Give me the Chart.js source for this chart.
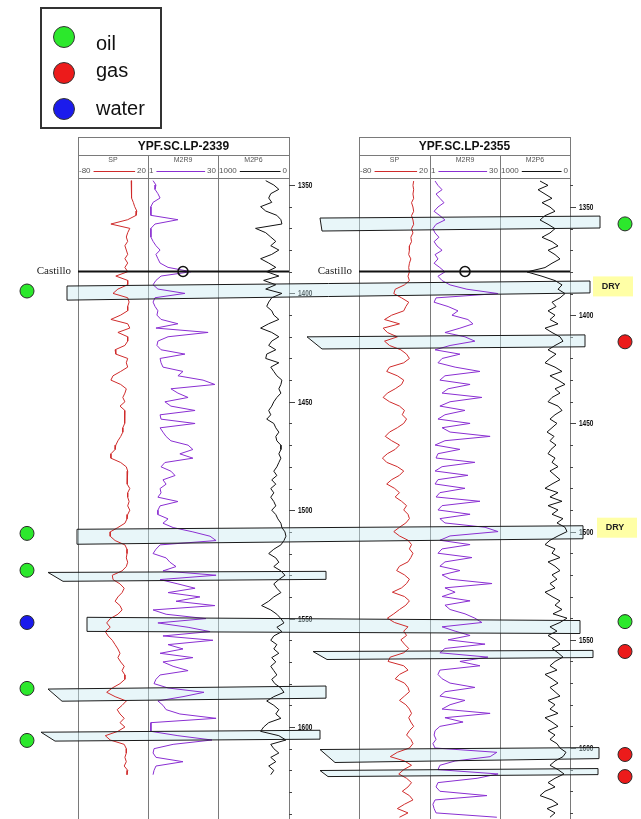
<!DOCTYPE html>
<html>
<head>
<meta charset="utf-8">
<script src="https://cdn.jsdelivr.net/npm/chart.js@4.4.0/dist/chart.umd.min.js"></script>
<style>
  html, body { margin: 0; padding: 0; background: #fff; }
  #wrap { position: relative; width: 641px; height: 819px; }
</style>
</head>
<body>
<div id="wrap"><canvas id="logs" width="641" height="819"></canvas></div>
<script>
const wells = ['YPF.SC.LP-2339', 'YPF.SC.LP-2355'];
const curveNames = ['SP', 'M2R9', 'M2P6'];
const curveRanges = [[-80, 20], [1, 30], [1000, 0]];
const depthTicks = [1350, 1400, 1450, 1500, 1550, 1600];
const fluids = ['oil', 'gas', 'water'];

// samples every 2 m, first sample depth per well
const sampleStep = 2;
const firstDepth = [1348, 1338];

// well 1 (2339)
const sp1 = [-4,-3,-4,-3,-4,-1,1,4,3,-9,
  -33,-6,-9,-11,-9,-13,-11,-9,-13,-9,
  -13,-9,-26,-9,-9,-23,-30,-9,-7,-9,
  -9,-19,-33,-9,-6,-23,-9,-9,-13,-27,
  -26,-9,-11,-9,-19,-30,-33,-19,-11,-13,
  -16,-13,-20,-13,-13,-14,-13,-16,-16,-19,
  -23,-26,-27,-33,-33,-19,-11,-9,-10,-9,
  -10,-6,-9,-9,-7,-9,-6,-9,-10,-13,
  -23,-34,-34,-27,-13,-10,-10,-11,-9,-11,
  -17,-31,-30,-20,-14,-17,-23,-27,-20,-17,
  -23,-34,-39,-34,-41,-37,-31,-27,-23,-20,
  -23,-19,-14,-17,-13,-13,-20,-31,-39,-27,
  -11,-17,-24,-20,-14,-20,-13,-23,-41,-34,
  -14,-11,-11,-13,-11,-14,-9,-10];
const m2r9a = [3.1,4.3,3.9,5.1,6.0,3.1,2.2,2.2,2.2,13.4,
  3.9,2.2,2.2,2.2,3.1,4.3,6.0,4.3,5.1,6.0,
  9.3,18.8,6.4,4.3,3.1,5.1,16.3,3.9,3.1,3.9,
  5.1,4.7,6.4,13.4,4.3,25.9,9.3,5.1,4.7,6.4,
  16.3,6.0,6.4,7.2,15.5,13.4,23.8,28.7,10.5,13.4,
  17.6,8.0,10.5,20.5,6.0,6.4,20.5,6.0,7.2,8.5,
  10.5,17.6,19.6,14.2,19.6,8.0,6.4,10.5,12.2,7.2,
  8.5,6.0,6.4,5.1,13.4,6.0,5.1,5.1,9.3,7.2,
  11.4,19.6,26.7,29.2,6.0,4.3,3.1,8.5,10.1,12.6,
  7.2,29.2,6.0,13.4,20.5,9.3,22.5,12.6,28.7,3.1,
  8.5,25.0,5.1,17.6,26.7,7.2,27.9,9.3,15.5,6.0,
  19.6,7.2,11.4,17.6,6.0,4.3,3.5,9.3,24.2,15.5,
  5.1,7.2,8.5,14.2,29.2,2.2,2.2,2.2,13.4,27.5,
  11.4,3.5,3.1,4.3,15.5,4.3,3.5,3.1];
const m2p6a = [328,214,143,257,286,243,400,328,171,114,
  100,471,328,257,186,257,143,243,400,286,
  186,314,143,357,186,328,100,243,286,314,
  243,214,143,286,400,243,143,243,286,186,
  314,328,143,257,214,171,100,114,143,114,
  171,214,243,286,257,314,214,186,143,186,
  171,114,114,143,114,143,171,214,171,243,
  186,257,214,257,214,186,243,186,157,114,
  100,57,43,71,114,214,286,186,143,214,
  114,57,143,214,171,114,214,286,386,257,
  171,114,71,171,100,214,257,171,214,143,
  243,186,257,214,171,243,200,114,71,214,
  314,214,143,186,114,286,357,400,143,43,
  257,214,143,257,186,286,214,257];

// well 2 (2355)
const sp2 = [-3,-4,-3,-4,-3,-6,-4,-3,-6,-4,
  -3,-6,-4,-7,-6,-9,-9,-10,-7,-9,
  -10,-9,-11,-9,-16,-29,-31,-20,-10,-14,
  -17,-34,-44,-23,-46,-40,-26,-44,-37,-21,
  -13,-9,-17,-37,-41,-26,-17,-20,-29,-40,
  -46,-37,-23,-16,-19,-13,-17,-26,-37,-43,
  -34,-23,-29,-40,-47,-41,-26,-17,-23,-34,
  -41,-30,-23,-29,-20,-13,-17,-11,-9,-14,
  -23,-31,-23,-11,-6,-9,-4,-7,-11,-23,
  -27,-16,-9,-13,-20,-33,-16,-9,-14,-23,
  -31,-40,-30,-11,-17,-13,-21,-16,-10,-17,
  -36,-39,-17,-11,-23,-29,-16,-11,-9,-16,
  -23,-14,-9,-6,-10,-7,-3,-9,-13,-7,
  -4,-9,-26,-36,-16,-6,-17,-24,-13,-6,
  -11,-19,-9,-4,-16,-26,-11,-23];
const m2r9b = [3.1,4.3,6.0,3.5,5.1,6.8,4.3,2.7,5.1,7.2,
  3.5,2.2,3.1,4.7,2.7,3.9,6.0,3.1,4.3,2.7,
  5.1,7.2,4.3,6.0,9.3,16.3,29.2,3.5,2.7,8.5,
  12.6,10.1,16.7,18.8,13.4,7.2,15.5,19.6,9.3,3.1,
  13.4,6.0,4.3,11.4,21.7,7.2,5.1,17.6,8.5,6.0,
  22.5,9.3,5.1,15.5,7.2,4.3,17.6,6.0,9.3,25.9,
  7.2,3.1,13.4,4.3,3.5,19.6,6.0,3.1,16.7,4.3,
  3.1,15.5,5.1,3.5,21.7,6.0,4.3,17.6,5.1,7.2,
  23.8,29.2,9.3,5.1,17.6,6.0,4.3,18.4,7.2,5.1,
  13.4,6.0,9.3,26.7,7.2,11.4,6.0,17.6,7.2,9.3,
  15.5,19.6,22.5,6.0,11.4,17.6,8.5,23.8,7.2,5.1,
  25.0,13.4,21.7,5.1,4.3,6.0,9.3,19.6,7.2,5.1,
  15.5,9.3,6.0,25.9,7.2,14.7,5.1,3.1,2.7,3.5,
  2.2,3.1,28.7,25.9,11.4,5.1,4.3,29.2,20.5,4.3,
  3.5,5.1,24.6,3.1,2.2,2.7,3.5,28.7];
const m2p6b = [428,314,457,357,257,400,286,214,357,428,
  314,214,286,400,257,171,314,214,143,257,
  357,614,400,214,114,171,71,143,257,200,
  314,214,286,171,357,257,143,100,214,314,
  200,286,357,214,114,286,171,71,214,143,
  257,314,171,114,214,286,186,257,328,228,
  286,200,271,314,214,257,171,286,214,143,
  257,357,171,286,114,314,171,257,100,186,
  71,43,171,286,357,214,257,143,314,214,
  143,257,186,286,214,357,257,143,214,114,
  243,43,143,286,186,314,214,143,257,171,
  100,214,286,186,357,257,171,286,214,143,
  314,214,286,171,357,257,171,314,214,286,
  186,143,57,100,214,286,171,86,214,314,
  214,357,428,257,171,328,214,286];

// Castillo marker depth in each well
const castilloDepth = [1389.9, 1379.8];

// correlation bands: well of each end, top / base depth at each end
const bandLeftWell  = [2, 1, 2, 1, 1, 1, 2, 1, 1, 2, 2];
const bandLeftTop   = [1355.1, 1396.6, 1410.0, 1508.8, 1528.7, 1549.4, 1555.4, 1582.5, 1602.4, 1600.7, 1610.4];
const bandLeftBase  = [1361.1, 1403.1, 1415.6, 1515.7, 1532.8, 1555.9, 1559.1, 1588.1, 1606.5, 1606.7, 1613.2];
const bandRightWell = [2, 2, 2, 2, 1, 2, 2, 1, 1, 2, 2];
const bandRightTop  = [1354.2, 1384.2, 1409.1, 1497.3, 1528.2, 1541.1, 1554.9, 1581.1, 1601.5, 1599.8, 1609.5];
const bandRightBase = [1359.7, 1389.7, 1414.6, 1503.3, 1531.9, 1547.1, 1558.2, 1586.7, 1605.6, 1604.9, 1612.3];

// test results
const w1Fluid = ['oil', 'oil', 'oil', 'water', 'oil', 'oil'];
const w1FluidDepth = [1398.9, 1510.7, 1527.7, 1551.8, 1582.2, 1606.2];
const w2Fluid = ['oil', 'gas', 'oil', 'gas', 'gas', 'gas'];
const w2FluidDepth = [1357.8, 1412.3, 1541.6, 1555.4, 1603.0, 1613.2];
const dryDepth = [1386.7, 1498.2];

// ---- layout ----
const W = 641, H = 819;
const TRACK_PX = [[78, 148, 218, 289], [359, 430, 500, 570]];
const DEPTH_PX = [[185, 727], [207, 748]];        // rows of 1350 and 1600
const HEADER = { top: 137, title: 155, bottom: 178 };
const MARKER_X = [27, 625];
const DRY_X = [23, 27];
// band end offsets: [left top, left base] from left track edge, right from right track edge
const BAND_X = [[-39, -37, 30], [-11, -11, 20], [-52, -37, 15], [-1, -1, 13], [-30, -15, 37],
  [9, 9, 10], [-46, -32, 23], [-30, -16, 37], [-37, -23, 31], [-39, -24, 29], [-39, -31, 28]];
const FLUID_COLORS = { oil: '#2ce82c', gas: '#ec1b1b', water: '#1b1bec' };
const CURVE_COLORS = ['#cf2b2b', '#8a2fd2', '#111111'];
const CURVE_KEYS = ['sp', 'rt', 'pe'];

function fit(vA, vB, pA, pB, size) {
  const k = (vB - vA) / (pB - pA);
  const v0 = vA - pA * k, v1 = vB + (size - pB) * k;
  return k > 0 ? { min: v0, max: v1, reverse: false } : { min: v1, max: v0, reverse: true };
}

const scales = {
  page: { type: 'linear', axis: 'x', position: 'bottom', display: false, bounds: 'data', min: 0, max: W }
};
[0, 1].forEach(w => {
  const t = TRACK_PX[w];
  curveRanges.forEach((rg, c) => {
    const m = fit(rg[0], rg[1], t[c], t[c + 1], W);
    scales[CURVE_KEYS[c] + w] = { type: 'linear', axis: 'x', position: 'bottom', display: false,
      bounds: 'data', min: m.min, max: m.max, reverse: m.reverse };
  });
  const d = fit(1350, 1600, DEPTH_PX[w][0], DEPTH_PX[w][1], H);
  scales['d' + w] = { type: 'linear', axis: 'y', position: 'left', display: false,
    bounds: 'data', min: d.min, max: d.max, reverse: !d.reverse };
});

const logs = [[sp1, m2r9a, m2p6a], [sp2, m2r9b, m2p6b]];
const datasets = [
  { data: w1FluidDepth.map(d => ({ x: MARKER_X[0], y: d })), xAxisID: 'page', yAxisID: 'd0',
    pointRadius: 7, pointBackgroundColor: w1Fluid.map(f => FLUID_COLORS[f]),
    pointBorderColor: '#2a2a2a', pointBorderWidth: 1, showLine: false },
  { data: w2FluidDepth.map(d => ({ x: MARKER_X[1], y: d })), xAxisID: 'page', yAxisID: 'd1',
    pointRadius: 7, pointBackgroundColor: w2Fluid.map(f => FLUID_COLORS[f]),
    pointBorderColor: '#2a2a2a', pointBorderWidth: 1, showLine: false }
];
logs.forEach((curves, w) => {
  curves.forEach((vals, c) => {
    datasets.push({
      label: wells[w] + ' ' + curveNames[c],
      data: vals.map((v, i) => ({ x: v, y: firstDepth[w] + i * sampleStep })),
      xAxisID: CURVE_KEYS[c] + w, yAxisID: 'd' + w,
      showLine: true, borderColor: CURVE_COLORS[c], borderWidth: 1,
      pointRadius: 0, tension: 0
    });
  });
});

function edges(chart, w) {
  const s = chart.scales;
  return [s['sp' + w].getPixelForValue(curveRanges[0][0]), s['sp' + w].getPixelForValue(curveRanges[0][1]),
    s['rt' + w].getPixelForValue(curveRanges[1][1]), s['pe' + w].getPixelForValue(curveRanges[2][1])];
}
const py = (chart, w, d) => chart.scales['d' + w].getPixelForValue(d);

function bandPoly(chart, i) {
  const lw = bandLeftWell[i] - 1, rw = bandRightWell[i] - 1, ex = BAND_X[i];
  const lx = edges(chart, lw)[0], rx = edges(chart, rw)[3];
  return [[lx + ex[0], py(chart, lw, bandLeftTop[i])], [rx + ex[2], py(chart, rw, bandRightTop[i])],
    [rx + ex[2], py(chart, rw, bandRightBase[i])], [lx + ex[1], py(chart, lw, bandLeftBase[i])]];
}

const sectionPlugin = {
  id: 'section',
  beforeDatasetsDraw(chart) {
    const ctx = chart.ctx;
    ctx.save();
    [0, 1].forEach(w => {
      const e = edges(chart, w);
      ctx.strokeStyle = '#7a7a7a'; ctx.lineWidth = 1;
      ctx.beginPath();
      [e[0], e[3]].forEach(x => { ctx.moveTo(Math.round(x) + 0.5, HEADER.top); ctx.lineTo(Math.round(x) + 0.5, H); });
      [e[1], e[2]].forEach(x => { ctx.moveTo(Math.round(x) + 0.5, HEADER.title); ctx.lineTo(Math.round(x) + 0.5, H); });
      [HEADER.top, HEADER.title, HEADER.bottom].forEach(y => { ctx.moveTo(e[0], y + 0.5); ctx.lineTo(e[3] + 1, y + 0.5); });
      ctx.stroke();
      ctx.fillStyle = '#111';
      ctx.font = 'bold 12px "Liberation Sans", Arial, sans-serif';
      ctx.textAlign = 'center'; ctx.textBaseline = 'middle';
      ctx.fillText(wells[w], (e[0] + e[3]) / 2, (HEADER.top + HEADER.title) / 2 + 1);
      curveNames.forEach((name, c) => {
        const l = e[c], r = e[c + 1];
        ctx.fillStyle = '#555';
        ctx.font = '7px "Liberation Sans", Arial, sans-serif';
        ctx.textAlign = 'center';
        ctx.fillText(name, (l + r) / 2, HEADER.title + 5);
        ctx.font = '8px "Liberation Sans", Arial, sans-serif';
        const yRow = HEADER.title + 16;
        const a = String(curveRanges[c][0]), b = String(curveRanges[c][1]);
        ctx.textAlign = 'left'; ctx.fillText(a, l + 1, yRow);
        ctx.textAlign = 'right'; ctx.fillText(b, r - 2, yRow);
        const aw = ctx.measureText(a).width, bw = ctx.measureText(b).width;
        ctx.strokeStyle = CURVE_COLORS[c];
        ctx.beginPath(); ctx.moveTo(l + aw + 4, yRow + 0.5); ctx.lineTo(r - bw - 4, yRow + 0.5); ctx.stroke();
      });
      // depth ticks
      const s = chart.scales['d' + w];
      ctx.strokeStyle = '#444'; ctx.fillStyle = '#111';
      ctx.font = 'bold 9px "Liberation Sans", Arial, sans-serif';
      ctx.textAlign = 'left'; ctx.textBaseline = 'middle';
      for (let d = 1340; d <= 1640; d += 10) {
        const y = Math.round(s.getPixelForValue(d)) + 0.5;
        if (y < HEADER.bottom + 2 || y > H) continue;
        const major = depthTicks.includes(d);
        ctx.beginPath(); ctx.moveTo(e[3], y); ctx.lineTo(e[3] + (major ? 6 : 3), y); ctx.stroke();
        if (major) {
          ctx.save();
          ctx.translate(e[3] + 9, y);
          ctx.scale(0.72, 1);
          ctx.fillText(String(d), 0, 0);
          ctx.restore();
        }
      }
    });
    // band fills
    ctx.fillStyle = 'rgba(200, 234, 240, 0.42)';
    bandLeftWell.forEach((_, i) => {
      const p = bandPoly(chart, i);
      ctx.beginPath(); p.forEach((q, k) => k ? ctx.lineTo(q[0], q[1]) : ctx.moveTo(q[0], q[1]));
      ctx.closePath(); ctx.fill();
    });
    ctx.restore();
  },
  afterDatasetsDraw(chart) {
    const ctx = chart.ctx;
    ctx.save();
    ctx.strokeStyle = '#1a1a1a'; ctx.lineWidth = 1;
    bandLeftWell.forEach((_, i) => {
      const p = bandPoly(chart, i);
      ctx.beginPath(); p.forEach((q, k) => k ? ctx.lineTo(q[0], q[1]) : ctx.moveTo(q[0], q[1]));
      ctx.closePath(); ctx.stroke();
    });
    [0, 1].forEach(w => {
      const e = edges(chart, w);
      const y = py(chart, w, castilloDepth[w]);
      ctx.strokeStyle = '#111'; ctx.lineWidth = 2;
      ctx.beginPath(); ctx.moveTo(e[0], y); ctx.lineTo(e[3], y); ctx.stroke();
      ctx.lineWidth = 1.6;
      ctx.beginPath(); ctx.arc((e[1] + e[2]) / 2, y, 5, 0, Math.PI * 2); ctx.stroke();
      ctx.fillStyle = '#222';
      ctx.font = '11px "Liberation Serif", "Times New Roman", serif';
      ctx.textAlign = 'right'; ctx.textBaseline = 'middle';
      ctx.fillText('Castillo', e[0] - 7, y);
    });
    // DRY boxes
    const e2 = edges(chart, 1);
    dryDepth.forEach((d, i) => {
      const y = py(chart, 1, d);
      const x0 = e2[3] + DRY_X[i];
      ctx.fillStyle = '#ffffa6';
      ctx.fillRect(x0, y - 10, 40, 20);
      ctx.fillStyle = '#222';
      ctx.font = 'bold 9px "Liberation Sans", Arial, sans-serif';
      ctx.textAlign = 'center'; ctx.textBaseline = 'middle';
      ctx.fillText('DRY', x0 + 18, y);
    });
    // legend
    ctx.strokeStyle = '#333'; ctx.lineWidth = 2;
    ctx.strokeRect(41, 8, 120, 120);
    const cy = [37, 73, 109], ty = [50, 77, 115];
    fluids.forEach((f, i) => {
      ctx.beginPath(); ctx.arc(64, cy[i], 10.5, 0, Math.PI * 2);
      ctx.fillStyle = FLUID_COLORS[f]; ctx.fill();
      ctx.lineWidth = 1; ctx.strokeStyle = '#333'; ctx.stroke();
      ctx.fillStyle = '#111';
      ctx.font = '20px "Liberation Sans", Arial, sans-serif';
      ctx.textAlign = 'left'; ctx.textBaseline = 'alphabetic';
      ctx.fillText(f, 96, ty[i]);
    });
    ctx.restore();
  }
};

new Chart(document.getElementById('logs'), {
  type: 'scatter',
  data: { datasets },
  options: {
    responsive: false,
    animation: false,
    devicePixelRatio: 1,
    events: [],
    layout: { padding: 0, autoPadding: false },
    scales,
    plugins: { legend: { display: false }, tooltip: { enabled: false } }
  },
  plugins: [sectionPlugin]
});
</script>
</body>
</html>
